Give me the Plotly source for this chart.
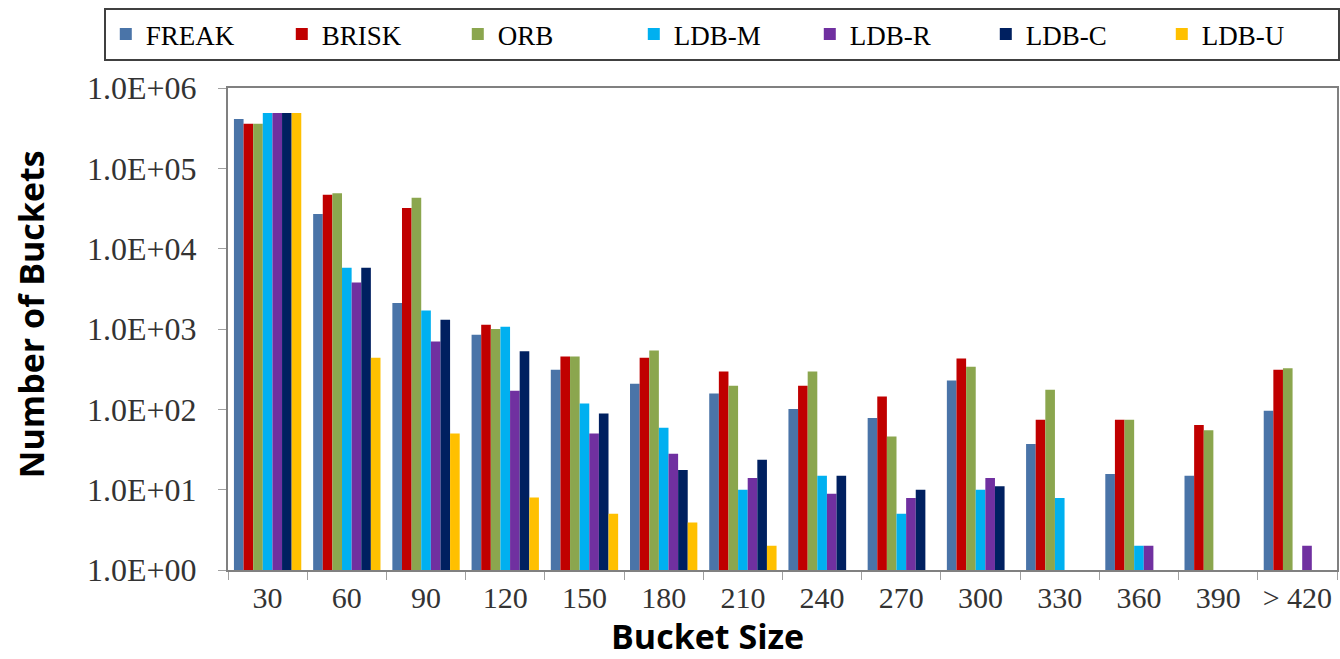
import plotly.graph_objects as go

categories = ["30", "60", "90", "120", "150", "180", "210", "240", "270", "300", "330", "360", "390", "> 420"]

freak = [410000, 27000, 2100, 850, 310, 208, 157, 101, 78, 229, 37, 15.7, 14.9, 96]
brisk = [360000, 47000, 32000, 1130, 455, 440, 295, 196, 144, 430, 74, 74, 64, 310]
orb   = [360000, 49000, 43000, 1000, 455, 540, 196, 295, 46, 340, 175, 74, 55, 325]
ldb_m = [490000, 5800, 1700, 1070, 118, 59, 10, 14.9, 5, 10, 7.9, 2, None, None]
ldb_r = [490000, 3800, 700, 170, 50, 28, 14, 8.9, 7.9, 14, None, 2, None, 2]
ldb_c = [490000, 5800, 1300, 530, 89, 17.6, 23.5, 14.9, 10, 11, None, None, None, None]
ldb_u = [490000, 440, 50, 8, 5, 3.9, 2, None, None, None, None, None, None, None]

series_names = ["FREAK", "BRISK", "ORB", "LDB-M", "LDB-R", "LDB-C", "LDB-U"]
series_values = [freak, brisk, orb, ldb_m, ldb_r, ldb_c, ldb_u]
series_colors = ["#4A74A8", "#C00000", "#8BA64E", "#00B0F0", "#7030A0", "#002060", "#FFC000"]

y_tickvals = [1, 10, 100, 1000, 10000, 100000, 1000000]
y_ticktext = ["1.0E+00", "1.0E+01", "1.0E+02", "1.0E+03", "1.0E+04", "1.0E+05", "1.0E+06"]

fig = go.Figure()
for name, vals, col in zip(series_names, series_values, series_colors):
    fig.add_trace(go.Bar(name=name, x=categories, y=vals, marker_color=col,
                         marker_line_width=0))

serif = "Liberation Serif, Times New Roman, serif"
sans = "Open Sans, Liberation Sans, sans-serif"

fig.update_layout(
    width=1340, height=659,
    margin=dict(l=228, r=3, t=88, b=89),
    paper_bgcolor="white", plot_bgcolor="white",
    barmode="group", bargap=0.15, bargroupgap=0,
    legend=dict(orientation="h", x=-0.112, xanchor="left", y=1.166, yanchor="top",
                bordercolor="#404040", borderwidth=2, bgcolor="white",
                font=dict(family=serif, size=27, color="black"),
                entrywidth=131, entrywidthmode="pixels", valign="bottom",
                traceorder="normal", itemwidth=30),
    xaxis=dict(type="category", showline=True, linecolor="#808080", linewidth=2,
               mirror=True, ticks="outside", tickson="boundaries", ticklen=8,
               tickcolor="#A0A0A0", showgrid=False, automargin=False,
               tickfont=dict(family=serif, size=30, color="#333333")),
    yaxis=dict(type="log", range=[0, 6], showline=True, linecolor="#808080", linewidth=2,
               mirror=True, ticks="outside", ticklen=8, tickcolor="#A0A0A0",
               showgrid=False, tickvals=y_tickvals, ticktext=y_ticktext,
               automargin=False, ticklabelstandoff=15,
               tickfont=dict(family=serif, size=32, color="#333333")),
    annotations=[
        dict(text="<b>Number of Buckets</b>", xref="paper", yref="paper",
             x=-0.178, y=0.53, xanchor="center", yanchor="middle", textangle=-90,
             showarrow=False, font=dict(family=sans, size=34, color="black")),
        dict(text="<b>Bucket Size</b>", xref="paper", yref="paper",
             x=(708 - 228) / 1110, y=-0.085, xanchor="center", yanchor="top",
             showarrow=False, font=dict(family=sans, size=34, color="black")),
    ],
)

fig.write_html("out.html", config={"displayModeBar": False},
               post_script="document.body.style.margin='0';document.body.style.overflow='hidden';")
